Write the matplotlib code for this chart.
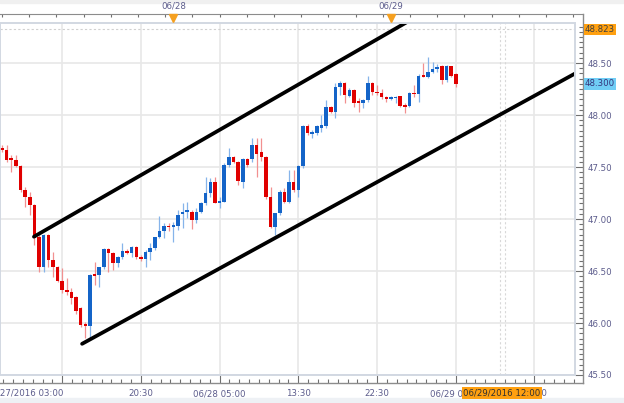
import matplotlib
matplotlib.use("Agg")
import matplotlib.pyplot as plt
import numpy as np
from matplotlib.patches import Rectangle
from matplotlib.ticker import FixedLocator, MultipleLocator, AutoMinorLocator, FuncFormatter

# ---------------- data (30-minute candles) ----------------
opens = [47.68, 47.66, 47.58, 47.57, 47.51, 47.28, 47.21, 47.13, 46.83, 46.54,
         46.85, 46.61, 46.54, 46.40, 46.32, 46.30, 46.25, 46.14, 45.99, 45.97,
         46.47, 46.46, 46.54, 46.71, 46.67, 46.58, 46.63, 46.69, 46.67, 46.73,
         46.63, 46.62, 46.68, 46.72, 46.83, 46.88, 46.93, 46.92, 46.93, 47.05,
         47.07, 47.07, 46.99, 47.07, 47.15, 47.25, 47.36, 47.15, 47.16, 47.52,
         47.60, 47.55, 47.36, 47.58, 47.58, 47.71, 47.64, 47.60, 47.21, 46.92,
         47.06, 47.26, 47.16, 47.36, 47.28, 47.51, 47.89, 47.82, 47.83, 47.88,
         47.89, 48.08, 48.03, 48.27, 48.31, 48.18, 48.24, 48.13, 48.12, 48.14,
         48.31, 48.22, 48.21, 48.17, 48.15, 48.16, 48.18, 48.09, 48.09, 48.21,
         48.20, 48.38, 48.37, 48.41, 48.44, 48.47, 48.34, 48.47, 48.39]
highs = [47.71, 47.71, 47.62, 47.62, 47.52, 47.31, 47.26, 47.14, 46.85, 46.86,
         46.86, 46.68, 46.55, 46.53, 46.43, 46.34, 46.26, 46.15, 46.01, 46.47,
         46.59, 46.54, 46.72, 46.72, 46.68, 46.64, 46.77, 46.71, 46.74, 46.74,
         46.65, 46.70, 46.77, 46.83, 47.03, 46.96, 46.96, 46.97, 47.09, 47.15,
         47.16, 47.09, 47.11, 47.16, 47.40, 47.39, 47.40, 47.21, 47.54, 47.68,
         47.61, 47.56, 47.59, 47.59, 47.78, 47.78, 47.78, 47.61, 47.31, 47.06,
         47.28, 47.30, 47.47, 47.47, 47.52, 47.90, 47.91, 47.86, 47.90, 48.00,
         48.14, 48.09, 48.31, 48.33, 48.32, 48.26, 48.25, 48.16, 48.15, 48.38,
         48.32, 48.29, 48.25, 48.18, 48.18, 48.18, 48.18, 48.12, 48.22, 48.29,
         48.39, 48.50, 48.56, 48.51, 48.49, 48.48, 48.48, 48.47, 48.40]
lows = [47.64, 47.55, 47.45, 47.50, 47.26, 47.12, 47.04, 46.75, 46.49, 46.49,
        46.54, 46.44, 46.39, 46.29, 46.27, 46.18, 46.09, 45.96, 45.86, 45.86,
        46.37, 46.35, 46.52, 46.49, 46.51, 46.54, 46.62, 46.66, 46.63, 46.62,
        46.60, 46.54, 46.61, 46.70, 46.82, 46.82, 46.88, 46.78, 46.89, 46.91,
        47.01, 46.90, 46.96, 47.06, 47.13, 47.21, 47.15, 47.11, 47.16, 47.50,
        47.54, 47.33, 47.30, 47.50, 47.55, 47.40, 47.56, 47.19, 46.91, 46.85,
        47.04, 47.15, 47.15, 47.26, 47.21, 47.49, 47.81, 47.78, 47.81, 47.84,
        47.88, 48.02, 47.97, 48.19, 48.12, 48.17, 48.08, 48.03, 48.07, 48.13,
        48.19, 48.19, 48.15, 48.13, 48.14, 48.12, 48.08, 48.02, 48.08, 48.17,
        48.13, 48.37, 48.36, 48.40, 48.41, 48.30, 48.32, 48.37, 48.27]
closes = [47.66, 47.57, 47.57, 47.51, 47.28, 47.21, 47.13, 46.82, 46.54, 46.85,
          46.61, 46.54, 46.40, 46.32, 46.30, 46.24, 46.12, 45.98, 45.97, 46.46,
          46.45, 46.54, 46.71, 46.67, 46.58, 46.63, 46.69, 46.67, 46.73, 46.63,
          46.62, 46.68, 46.72, 46.83, 46.88, 46.93, 46.92, 46.94, 47.04, 47.07,
          47.08, 46.99, 47.07, 47.15, 47.25, 47.36, 47.15, 47.17, 47.52, 47.60,
          47.55, 47.37, 47.58, 47.52, 47.71, 47.63, 47.60, 47.21, 46.92, 47.06,
          47.26, 47.16, 47.36, 47.28, 47.51, 47.89, 47.83, 47.83, 47.89, 47.90,
          48.08, 48.03, 48.27, 48.31, 48.19, 48.24, 48.12, 48.12, 48.14, 48.31,
          48.22, 48.21, 48.17, 48.15, 48.17, 48.17, 48.09, 48.08, 48.21, 48.20,
          48.38, 48.37, 48.41, 48.44, 48.46, 48.34, 48.47, 48.38, 48.30]

time_tick_pos = [13, 30, 47, 64, 81, 98, 115]
time_tick_labels = ["06/27/2016 03:00", "20:30", "06/28 05:00", "13:30",
                    "22:30", "06/29 07:00", "15:30"]
day_pos = [37, 84]
day_labels = ["06/28", "06/29"]
price_ticks = [45.5, 46.0, 46.5, 47.0, 47.5, 48.0, 48.5]
high_mark = 48.823
last_price = 48.300
crosshair_index = 108
crosshair_label = "06/29/2016 12:00"

trend_upper_x = [6.9, 87.7]
trend_upper_y = [46.83, 48.90]
trend_lower_x = [17.3, 123.8]
trend_lower_y = [45.80, 48.40]

# ---------------- styling ----------------
W, H = 624, 403
plt.rcParams["font.family"] = ["DejaVu Sans"]
plt.rcParams["font.size"] = 6.2
txt_color = "#5c5c8c"
axis_color = "#8c8c8c"
up_body, up_wick = "#1464c8", "#86b4ea"
dn_body, dn_wick = "#e00000", "#f29090"

fig = plt.figure(figsize=(W / 100, H / 100), dpi=100)
fig.patch.set_facecolor("white")
ax = fig.add_axes([0 / W, (H - 375) / H, 575 / W, (375 - 23) / H])

xlim = (-0.43, 123.75)
ylim = (45.5, 48.885)
ax.set_xlim(*xlim)
ax.set_ylim(*ylim)
px_x = 575 / (xlim[1] - xlim[0])
px_y = 352 / (ylim[1] - ylim[0])

# grid
ax.set_axisbelow(True)
for xp in time_tick_pos:
    ax.axvline(xp, color="#e8e8e8", lw=1.2, zorder=0)
for yp in price_ticks:
    ax.axhline(yp, color="#e8e8e8", lw=1.2, zorder=0)

# dotted high line & crosshair
ax.axhline(high_mark, color="#d0d0d0", lw=0.8, ls=(0, (2, 2)), zorder=1)
for dx in (-0.55, 0.55):
    ax.axvline(crosshair_index + dx, color="#d8d8d8", lw=0.8, ls=(0, (2, 2)), zorder=1)

# candles
o = np.array(opens); h = np.array(highs); l = np.array(lows); c = np.array(closes)
idx = np.arange(len(o))
up = c >= o
ax.vlines(idx[up], l[up], h[up], color=up_wick, lw=0.9, zorder=2)
ax.vlines(idx[~up], l[~up], h[~up], color=dn_wick, lw=0.9, zorder=2)
body_lo = np.minimum(o, c)
body_h = np.maximum(np.abs(c - o), 0.012)
ax.bar(idx[up], body_h[up], bottom=body_lo[up], width=0.76, color=up_body, lw=0, zorder=3)
ax.bar(idx[~up], body_h[~up], bottom=body_lo[~up], width=0.76, color=dn_body, lw=0, zorder=3)

# trend channel
for tx, ty in ((trend_upper_x, trend_upper_y), (trend_lower_x, trend_lower_y)):
    ax.plot(tx, ty, color="black", lw=2.7, solid_capstyle="round", zorder=5)

# inner plot frame
ax.add_patch(Rectangle((0, 0), 1, 1, transform=ax.transAxes, fill=False,
                       edgecolor="#d2d8e2", lw=1.4, clip_on=False, zorder=6))

# spines
for s in ("left", "top"):
    ax.spines[s].set_visible(False)
ax.spines["right"].set_position(("outward", 8 * 0.72))
ax.spines["bottom"].set_position(("outward", 8 * 0.72))
for s in ("right", "bottom"):
    ax.spines[s].set_color(axis_color)
    ax.spines[s].set_linewidth(1.0)
ax.spines["right"].set_bounds(ylim[0] - 8 / px_y, ylim[1] + 9 / px_y)
ax.spines["bottom"].set_bounds(xlim[0], xlim[1] + 8 / px_x)

# y axis on right
ax.yaxis.tick_right()
ax.yaxis.set_major_locator(FixedLocator(price_ticks))
ax.yaxis.set_minor_locator(MultipleLocator(0.05))
ax.yaxis.set_major_formatter(FuncFormatter(lambda v, p: f"{v:.2f}"))
ax.tick_params(axis="y", which="major", direction="in", length=8 * 0.72, width=0.8,
               color="#707070", labelcolor=txt_color, pad=3.5)
ax.tick_params(axis="y", which="minor", direction="in", length=4 * 0.72, width=0.8,
               color="#707070")

# x axis bottom
ax.xaxis.set_major_locator(FixedLocator(time_tick_pos))
ax.xaxis.set_minor_locator(AutoMinorLocator(8))
ax.set_xticklabels([""] + time_tick_labels[1:])
ax.tick_params(axis="x", which="major", direction="in", length=8 * 0.72, width=0.8,
               color="#707070", labelcolor=txt_color, pad=4.5)
ax.tick_params(axis="x", which="minor", direction="in", length=4 * 0.72, width=0.8,
               color="#707070")
tr = ax.get_xaxis_transform()
ax.text(time_tick_pos[0] + 1 / px_x, -18 / 352, time_tick_labels[0], transform=tr,
        ha="right", va="center", color=txt_color, fontsize=6.2, clip_on=False)

# top day axis
top = ax.secondary_xaxis(1 + 9 / 352)
top.spines["top"].set_color(axis_color)
top.spines["top"].set_bounds(xlim[0], xlim[1] + 8 / px_x)
top.xaxis.set_major_locator(FixedLocator(day_pos))
top.xaxis.set_minor_locator(MultipleLocator(47 / 8))
top.set_xticklabels(day_labels)
top.tick_params(axis="x", which="both", direction="in", length=3 * 0.72, width=0.8,
                color="#707070", labelcolor=txt_color, pad=2.5)
for dp in day_pos:
    ax.plot([dp], [1 + 5 / 352], marker="v", ms=5.5, color="#f5a020", mec="#f5a020",
            transform=tr, clip_on=False, zorder=8)

# value boxes on right
ytr = ax.get_yaxis_transform()
ax.text(1 + 10 / 575, high_mark, f"{high_mark:.3f}", transform=ytr, ha="left",
        va="center", color="#404040", fontsize=6.2, clip_on=False, zorder=9,
        bbox=dict(boxstyle="square,pad=0.15", fc="#ffa010", ec="none"))
ax.text(1 + 10 / 575, last_price, f"{last_price:.3f}", transform=ytr, ha="left",
        va="center", color="#33337a", fontsize=6.2, clip_on=False, zorder=9,
        bbox=dict(boxstyle="square,pad=0.15", fc="#70cdf5", ec="none"))

# crosshair time box
ax.text(crosshair_index, -18 / 352, crosshair_label, transform=tr, ha="center",
        va="center", color="#303030", fontsize=6.2, clip_on=False, zorder=9,
        bbox=dict(boxstyle="square,pad=0.15", fc="#ffa010", ec="none"))

# background strips
fig.add_artist(Rectangle((0, 0), 1, 5 / H, transform=fig.transFigure,
                         color="#eef1f5", zorder=-5))
fig.add_artist(Rectangle((0, 1 - 3 / H), 1, 3 / H, transform=fig.transFigure,
                         color="#f0f0f0", zorder=-5))

fig.savefig("out.png", dpi=100)
